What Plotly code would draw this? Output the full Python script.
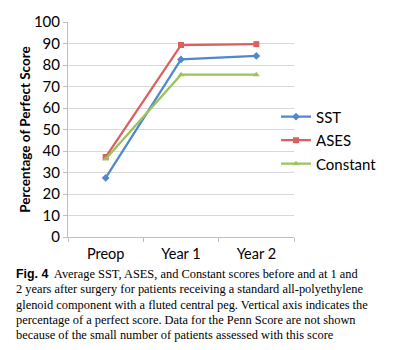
import plotly.graph_objects as go

categories = ["Preop", "Year 1", "Year 2"]
sst = [27.5, 82.6, 84.2]
ases = [37.2, 89.3, 89.7]
constant = [36.3, 75.5, 75.5]
y_ticks = [0, 10, 20, 30, 40, 50, 60, 70, 80, 90, 100]

caption_lines = [
    "<span style='font-family:Liberation Sans'><b>Fig. 4</b></span>  Average SST, ASES, and Constant scores before and at 1 and",
    "2 years after surgery for patients receiving a standard all-polyethylene",
    "glenoid component with a fluted central peg. Vertical axis indicates the",
    "percentage of a perfect score. Data for the Penn Score are not shown",
    "because of the small number of patients assessed with this score",
]

W, H = 399, 350
L, R, T, B = 68, 294, 20, 236.6

fig = go.Figure()
series = [
    ("SST", sst, "rgb(80,135,205)", "diamond", 6),
    ("ASES", ases, "rgb(220,96,94)", "square", 6),
    ("Constant", constant, "rgb(155,195,90)", "triangle-up", 6),
]
for name, vals, col, sym, sz in series:
    fig.add_trace(go.Scatter(
        x=categories, y=vals, name=name, mode="lines+markers",
        legendgroup=name,
        line=dict(color=col, width=2.25),
        marker=dict(symbol=sym, size=sz, color=col),
    ))

ph = B - T
pw = R - L
def px_x(x):
    return (x - L) / pw
def px_y(y):
    return (B - y) / ph

ann = []
y0 = 274
for i, line in enumerate(caption_lines):
    ann.append(dict(
        text=line, xref="paper", yref="paper", x=px_x(14), y=px_y(y0 + i * 15.4),
        xanchor="left", yanchor="middle", showarrow=False, align="left",
        font=dict(family="Liberation Serif", size=12.4, color="black"),
    ))

fig.update_layout(
    width=W, height=H,
    margin=dict(l=L, r=W - R, t=T, b=H - B),
    paper_bgcolor="white", plot_bgcolor="white",
    font=dict(family="Lato", size=14, color="black"),
    showlegend=True,
    legend=dict(x=px_x(276), y=px_y(99), xanchor="left", yanchor="top",
                bgcolor="rgba(0,0,0,0)", font=dict(size=15, family="Lato"),
                tracegroupgap=1, itemwidth=30),
    xaxis=dict(
        type="category", range=[-0.5, 2.5],
        showgrid=False, showline=True, linecolor="rgb(190,190,190)", linewidth=1,
        ticks="outside", ticklen=4, tickcolor="rgb(190,190,190)",
        tickson="boundaries", ticklabelstandoff=4,
        tickfont=dict(family="Lato", size=14.5),
    ),
    yaxis=dict(
        range=[0, 100], tickvals=y_ticks,
        showgrid=True, gridcolor="rgb(217,217,217)", gridwidth=1,
        showline=True, linecolor="rgb(190,190,190)", linewidth=1,
        ticks="outside", ticklen=4, tickcolor="rgb(190,190,190)",
        tickfont=dict(family="Lato", size=15),
        title=dict(text="<b>Percentage of Perfect Score</b>", font=dict(family="Lato", size=13.5), standoff=0),
        zeroline=False,
    ),
    annotations=ann,
)

fig.write_html("out.html")
